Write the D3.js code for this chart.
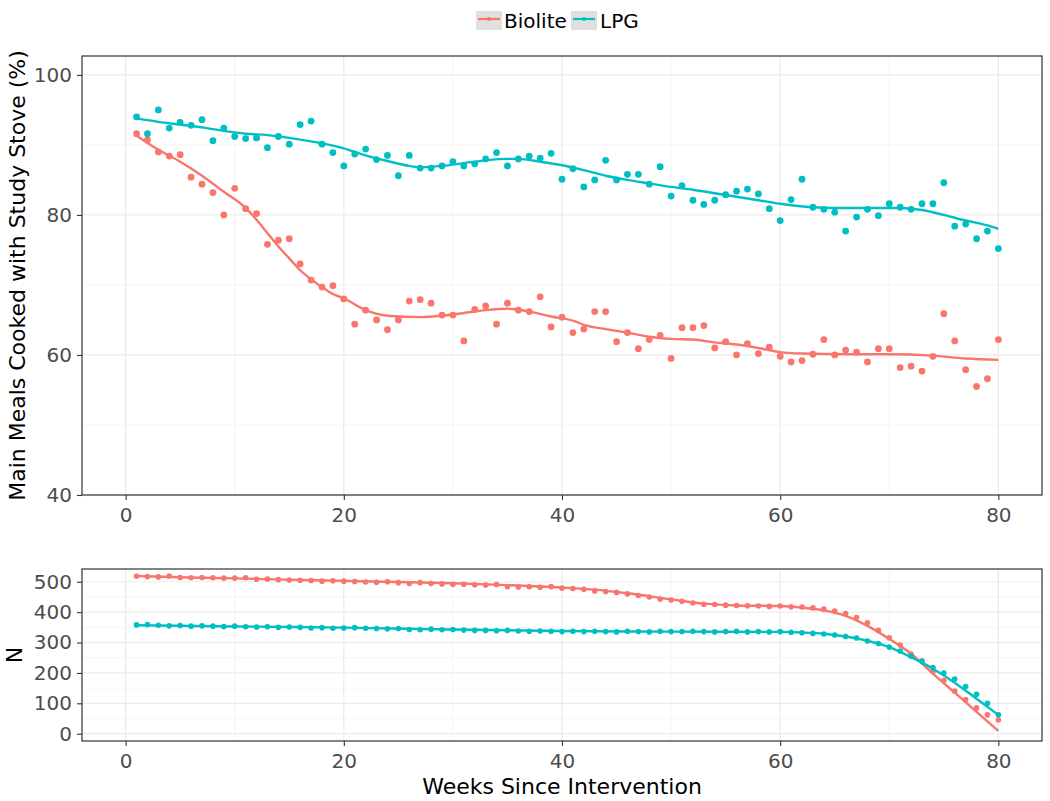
<!DOCTYPE html>
<html>
<head>
<meta charset="utf-8">
<script src="https://cdn.jsdelivr.net/npm/d3@7"></script>
<style>
  body { margin: 0; background: #fff; }
  svg { font-family: "DejaVu Sans", sans-serif; }
</style>
</head>
<body>
<div id="chart"></div>
<script>
// Weekly stove-use data
const weeks = [1,2,3,4,5,6,7,8,9,10,11,12,13,14,15,16,17,18,19,20,
  21,22,23,24,25,26,27,28,29,30,31,32,33,34,35,36,37,38,39,40,
  41,42,43,44,45,46,47,48,49,50,51,52,53,54,55,56,57,58,59,60,
  61,62,63,64,65,66,67,68,69,70,71,72,73,74,75,76,77,78,79,80];

const biolitePct = [91.6,90.7,89.0,88.4,88.6,85.4,84.4,83.2,80.0,83.8,
  80.9,80.2,75.8,76.4,76.6,73.0,70.7,69.7,69.9,68.0,
  64.4,66.4,65.0,63.6,65.0,67.7,67.9,67.4,65.7,65.7,
  62.0,66.5,67.0,64.4,67.4,66.4,66.2,68.3,64.0,65.4,
  63.2,63.7,66.2,66.2,61.9,63.2,60.9,62.2,62.8,59.5,
  63.9,63.9,64.2,61.0,61.9,60.0,61.6,60.2,61.1,59.8,
  59.0,59.2,60.1,62.2,60.0,60.7,60.4,59.0,60.9,60.9,
  58.2,58.4,57.7,59.8,65.9,62.0,57.9,55.5,56.6,62.2];

const lpgPct = [94.0,91.6,95.0,92.4,93.2,92.8,93.6,90.6,92.4,91.2,
  90.9,91.0,89.6,91.2,90.1,92.9,93.4,90.1,88.9,87.0,
  88.7,89.4,87.9,88.5,85.6,88.5,86.7,86.7,87.0,87.6,
  87.0,87.3,88.0,88.9,87.0,88.0,88.4,88.1,88.8,85.1,
  86.6,84.0,85.0,87.8,85.0,85.8,85.8,84.4,86.9,82.7,
  84.2,82.1,81.5,82.1,82.9,83.4,83.7,83.0,80.9,79.2,
  82.2,85.1,81.1,80.8,80.4,77.7,79.7,80.8,79.9,81.6,
  81.1,80.8,81.6,81.6,84.6,78.4,78.7,76.6,77.7,75.2];

// Smoothed trend lines (read at selected weeks)
const bioliteSmoothWeeks = [1,3,5,7,9,11,12,13,14,15,16,17,18,19,20,22,24,27,29,31,33,35,37,39,41,42,44,46,48,50,52,54,56,58,60,62,66,70,74,77,80];
const bioliteSmoothPct = [91.3,89.3,87.6,85.6,83.3,81.0,79.3,77.4,75.5,73.8,72.1,70.8,69.7,68.7,68.1,66.4,65.6,65.4,65.6,66.0,66.4,66.6,66.2,65.5,64.9,64.3,63.7,63.2,62.6,62.3,62.2,61.8,61.5,61.0,60.4,60.2,60.1,60.1,59.9,59.5,59.3];

const lpgSmoothWeeks = [1,3,5,7,9,11,13,15,17,19,20,22,24,26,27,29,31,33,35,36,38,40,42,44,46,48,50,52,54,56,58,60,63,65,67,69,71,73,75,77,79,80];
const lpgSmoothPct = [93.8,93.3,92.9,92.5,92.0,91.6,91.4,91.0,90.5,89.9,89.5,88.5,87.7,87.0,86.8,87.0,87.4,87.8,88.0,88.0,87.6,87.1,86.4,85.6,85.0,84.5,84.0,83.6,83.1,82.6,82.1,81.6,81.1,81.0,81.0,81.0,81.0,80.7,80.0,79.2,78.5,78.0];

// Number of households reporting each week
const bioliteN = [518,517,516,519,514,513,514,513,512,512,
  513,508,509,507,506,505,504,502,503,502,
  501,499,498,500,497,494,497,494,493,492,
  492,490,489,491,484,483,484,482,484,479,
  478,475,470,468,465,460,455,450,443,440,
  436,430,426,425,423,422,421,420,419,420,
  418,417,414,410,404,395,382,365,340,316,
  292,262,240,205,175,140,112,85,62,45];

const lpgN = [358,359,357,355,356,354,355,354,353,354,
  352,351,352,350,351,350,348,349,347,348,
  349,347,346,345,346,343,342,344,342,343,
  341,340,340,339,340,338,337,338,337,336,
  337,336,337,336,335,337,336,335,337,336,
  336,337,336,335,336,337,335,336,335,336,
  334,332,330,328,325,320,315,305,297,285,
  272,255,238,218,200,180,155,130,100,62];

const bioliteSmoothNWeeks = [1,5,10,15,20,25,30,35,40,43,46,50,53,56,60,62,64,66,68,70,72,74,76,78,80];
const bioliteSmoothN = [519,515,511,507,503,499,495,489,481,474,462,442,428,422,420,415,406,388,355,312,263,198,135,72,9];

const lpgSmoothNWeeks = [1,10,20,30,40,50,60,62,64,66,68,70,72,74,76,78,80];
const lpgSmoothN = [357,353,349,343,338,336,335,333,329,320,306,285,252,214,168,115,62];

const colors = { Biolite: "#F8766D", LPG: "#00BFC4" };
const FONT = "DejaVu Sans, sans-serif";

// Layout
const W = 1050, H = 801;
const svg = d3.select("#chart").append("svg")
  .attr("width", W).attr("height", H);
svg.append("rect").attr("width", W).attr("height", H).attr("fill", "#fff");

const x = d3.scaleLinear().domain([-4, 84]).range([82, 1042]);
const yTop = d3.scaleLinear().domain([40, 102.7]).range([495, 56]);
const yBot = d3.scaleLinear().domain([-24, 542]).range([741, 569]);

function drawPanel(y, majorY, minorY, series) {
  const [y0, y1] = y.range();
  const g = svg.append("g");

  // grid
  g.selectAll("line.minorY").data(minorY).enter().append("line")
    .attr("x1", 82).attr("x2", 1042)
    .attr("y1", d => y(d)).attr("y2", d => y(d))
    .attr("stroke", "#f2f2f2").attr("stroke-width", 0.8);
  g.selectAll("line.minorX").data([10, 30, 50, 70]).enter().append("line")
    .attr("y1", y0).attr("y2", y1)
    .attr("x1", d => x(d)).attr("x2", d => x(d))
    .attr("stroke", "#f2f2f2").attr("stroke-width", 0.8);
  g.selectAll("line.majorY").data(majorY).enter().append("line")
    .attr("x1", 82).attr("x2", 1042)
    .attr("y1", d => y(d)).attr("y2", d => y(d))
    .attr("stroke", "#ebebeb").attr("stroke-width", 1.2);
  g.selectAll("line.majorX").data([0, 20, 40, 60, 80]).enter().append("line")
    .attr("y1", y0).attr("y2", y1)
    .attr("x1", d => x(d)).attr("x2", d => x(d))
    .attr("stroke", "#ebebeb").attr("stroke-width", 1.2);

  // smooth lines + points
  const line = d3.line().x(d => x(d[0])).y(d => y(d[1])).curve(d3.curveMonotoneX);
  series.forEach(s => {
    g.selectAll(null).data(s.pts).enter().append("circle")
      .attr("cx", d => x(d[0])).attr("cy", d => y(d[1]))
      .attr("r", s.r).attr("fill", colors[s.name]);
    g.append("path").datum(s.smooth)
      .attr("d", line).attr("fill", "none")
      .attr("stroke", colors[s.name]).attr("stroke-width", 2.4);
  });

  // border
  g.append("rect").attr("x", 82).attr("y", y1)
    .attr("width", 960).attr("height", y0 - y1)
    .attr("fill", "none").attr("stroke", "#333").attr("stroke-width", 1.2);

  // axes
  const yAxis = g.append("g").attr("transform", "translate(82,0)")
    .call(d3.axisLeft(y).tickValues(majorY).tickSize(5).tickPadding(5));
  const xAxis = g.append("g").attr("transform", `translate(0,${y0})`)
    .call(d3.axisBottom(x).tickValues([0, 20, 40, 60, 80]).tickSize(5).tickPadding(8));
  [yAxis, xAxis].forEach(a => {
    a.select(".domain").remove();
    a.selectAll(".tick line").attr("stroke", "#333").attr("stroke-width", 1.1);
    a.selectAll(".tick text").attr("fill", "#4d4d4d")
      .style("font-size", "20px").style("font-family", FONT);
  });
  return g;
}

const zip = (a, b) => a.map((v, i) => [v, b[i]]);

drawPanel(yTop, [40, 60, 80, 100], [50, 70, 90], [
  { name: "Biolite", r: 3.4, pts: zip(weeks, biolitePct), smooth: zip(bioliteSmoothWeeks, bioliteSmoothPct) },
  { name: "LPG", r: 3.4, pts: zip(weeks, lpgPct), smooth: zip(lpgSmoothWeeks, lpgSmoothPct) }
]);

drawPanel(yBot, [0, 100, 200, 300, 400, 500], [50, 150, 250, 350, 450], [
  { name: "Biolite", r: 2.8, pts: zip(weeks, bioliteN), smooth: zip(bioliteSmoothNWeeks, bioliteSmoothN) },
  { name: "LPG", r: 2.8, pts: zip(weeks, lpgN), smooth: zip(lpgSmoothNWeeks, lpgSmoothN) }
]);

// Axis titles
svg.append("text")
  .attr("transform", `translate(25,${(56 + 495) / 2}) rotate(-90)`)
  .attr("text-anchor", "middle")
  .style("font-size", "22px").attr("fill", "#000")
  .text("Main Meals Cooked with Study Stove (%)");

svg.append("text")
  .attr("transform", `translate(22,${(569 + 741) / 2}) rotate(-90)`)
  .attr("text-anchor", "middle")
  .style("font-size", "22px").attr("fill", "#000")
  .text("N");

svg.append("text")
  .attr("x", (82 + 1042) / 2).attr("y", 794)
  .attr("text-anchor", "middle")
  .style("font-size", "22px").attr("fill", "#000")
  .text("Weeks Since Intervention");

// Legend
const legendItems = [
  { name: "Biolite", keyX: 476, textX: 504 },
  { name: "LPG", keyX: 571, textX: 600 }
];
const legend = svg.append("g");
legendItems.forEach(d => {
  legend.append("rect").attr("x", d.keyX).attr("y", 11)
    .attr("width", 26).attr("height", 19).attr("fill", "#e0e0e0");
  legend.append("line")
    .attr("x1", d.keyX + 2).attr("x2", d.keyX + 24)
    .attr("y1", 19).attr("y2", 19)
    .attr("stroke", colors[d.name]).attr("stroke-width", 2.2);
  legend.append("circle").attr("cx", d.keyX + 13).attr("cy", 19).attr("r", 2)
    .attr("fill", colors[d.name]);
  legend.append("text").attr("x", d.textX).attr("y", 28)
    .style("font-size", "20px").attr("fill", "#000")
    .text(d.name);
});
</script>
</body>
</html>
